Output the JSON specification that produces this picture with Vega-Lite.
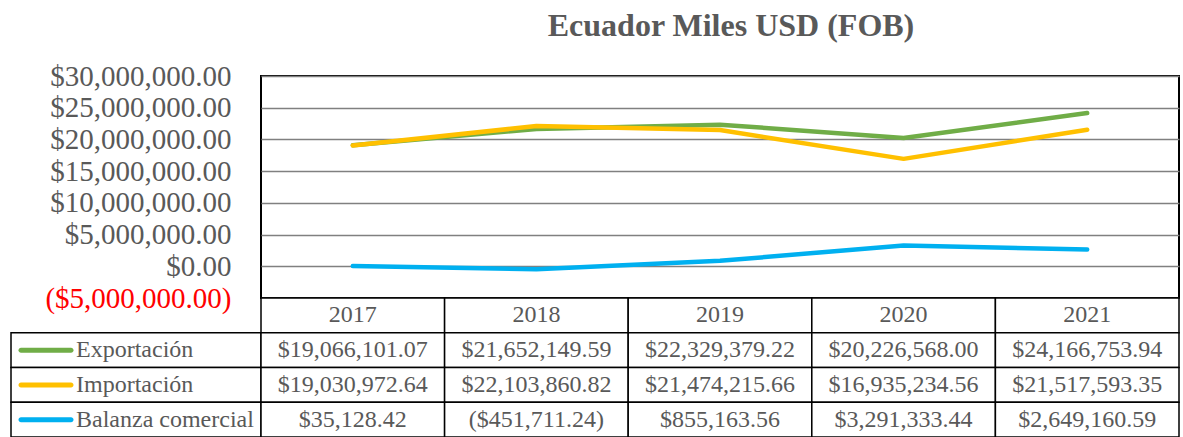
{
  "$schema": "https://vega.github.io/schema/vega-lite/v6.json",
  "background": "white",
  "padding": {"left": 10, "right": 5, "top": 9, "bottom": 0},
  "autosize": {"type": "pad"},
  "datasets": {
    "trade": [
      {"year": "2017", "serie": "Exportación", "value": 19066101.07},
      {"year": "2018", "serie": "Exportación", "value": 21652149.59},
      {"year": "2019", "serie": "Exportación", "value": 22329379.22},
      {"year": "2020", "serie": "Exportación", "value": 20226568.00},
      {"year": "2021", "serie": "Exportación", "value": 24166753.94},
      {"year": "2017", "serie": "Importación", "value": 19030972.64},
      {"year": "2018", "serie": "Importación", "value": 22103860.82},
      {"year": "2019", "serie": "Importación", "value": 21474215.66},
      {"year": "2020", "serie": "Importación", "value": 16935234.56},
      {"year": "2021", "serie": "Importación", "value": 21517593.35},
      {"year": "2017", "serie": "Balanza comercial", "value": 35128.42},
      {"year": "2018", "serie": "Balanza comercial", "value": -451711.24},
      {"year": "2019", "serie": "Balanza comercial", "value": 855163.56},
      {"year": "2020", "serie": "Balanza comercial", "value": 3291333.44},
      {"year": "2021", "serie": "Balanza comercial", "value": 2649160.59}
    ],
    "years": [
      {"year": "2017"}, {"year": "2018"}, {"year": "2019"}, {"year": "2020"}, {"year": "2021"}
    ]
  },
  "columns": 2,
  "spacing": 0,
  "bounds": "flush",
  "resolve": {"scale": {"x": "independent", "y": "independent"}},
  "concat": [
    {
      "width": 250,
      "height": 222,
      "view": {"stroke": null},
      "data": {"values": [{}]},
      "mark": {"type": "text"},
      "encoding": {"text": {"value": ""}}
    },
    {
      "width": 918,
      "height": 222,
      "view": {"stroke": "black", "strokeWidth": 2},
      "title": {
        "text": "Ecuador Miles USD (FOB)",
        "font": "Liberation Serif",
        "fontSize": 32,
        "fontWeight": "bold",
        "color": "#595959",
        "anchor": "middle",
        "dx": 11,
        "offset": 19
      },
      "data": {"name": "trade"},
      "mark": {"type": "line", "strokeWidth": 4.5, "strokeCap": "round", "strokeJoin": "round"},
      "encoding": {
        "x": {
          "field": "year", "type": "ordinal",
          "scale": {"type": "band", "paddingInner": 0, "paddingOuter": 0},
          "axis": null
        },
        "y": {
          "field": "value", "type": "quantitative",
          "scale": {"domain": [-5000000, 30000000], "nice": false, "zero": false},
          "axis": {
            "values": [-5000000, 0, 5000000, 10000000, 15000000, 20000000, 25000000, 30000000],
            "format": "($,.2f",
            "title": null,
            "domain": false,
            "ticks": false,
            "grid": true,
            "gridColor": "#808080",
            "gridWidth": 1.5,
            "labelFont": "Liberation Serif",
            "labelFontSize": 29,
            "labelPadding": 30,
            "labelLimit": 300,
            "labelOverlap": false,
            "labelColor": {"condition": {"test": "datum.value < 0", "value": "#FF0000"}, "value": "#595959"}
          }
        },
        "color": {
          "field": "serie", "type": "nominal",
          "scale": {"domain": ["Exportación", "Importación", "Balanza comercial"], "range": ["#70AD47", "#FFC000", "#00B0F0"]},
          "legend": null
        }
      }
    },
    {
      "width": 250,
      "height": 139,
      "view": {"stroke": null},
      "data": {"name": "trade"},
      "transform": [{"filter": "datum.year == '2017'"}],
      "encoding": {
        "y": {
          "field": "serie", "type": "nominal",
          "scale": {"domain": ["Año", "Exportación", "Importación", "Balanza comercial"], "paddingInner": 0, "paddingOuter": 0},
          "axis": null
        }
      },
      "layer": [
        {
          "mark": {"type": "rect", "fill": "white", "stroke": "black", "strokeWidth": 1.5}
        },
        {
          "mark": {"type": "tick", "orient": "horizontal", "size": 55, "thickness": 5, "xOffset": -90, "cornerRadius": 2.5, "opacity": 1},
          "encoding": {
            "color": {
              "field": "serie", "type": "nominal",
              "scale": {"domain": ["Exportación", "Importación", "Balanza comercial"], "range": ["#70AD47", "#FFC000", "#00B0F0"]},
              "legend": null
            }
          }
        },
        {
          "mark": {"type": "text", "align": "left", "baseline": "middle", "dx": -60, "font": "Liberation Serif", "fontSize": 24, "color": "#595959"},
          "encoding": {"text": {"field": "serie", "type": "nominal"}}
        }
      ]
    },
    {
      "width": 918,
      "height": 139,
      "view": {"stroke": null},
      "encoding": {
        "x": {
          "field": "year", "type": "ordinal",
          "scale": {"type": "band", "paddingInner": 0, "paddingOuter": 0},
          "axis": null
        }
      },
      "layer": [
        {
          "data": {"name": "years"},
          "mark": {"type": "rect", "fill": "white", "stroke": "black", "strokeWidth": 1.5},
          "encoding": {
            "y": {
              "datum": "Año", "type": "nominal",
              "scale": {"domain": ["Año", "Exportación", "Importación", "Balanza comercial"], "paddingInner": 0, "paddingOuter": 0},
              "axis": null
            }
          }
        },
        {
          "data": {"name": "years"},
          "mark": {"type": "text", "baseline": "middle", "font": "Liberation Serif", "fontSize": 24, "color": "#595959"},
          "encoding": {
            "y": {"datum": "Año", "type": "nominal"},
            "text": {"field": "year", "type": "nominal"}
          }
        },
        {
          "data": {"name": "trade"},
          "mark": {"type": "rect", "fill": "white", "stroke": "black", "strokeWidth": 1.5},
          "encoding": {
            "y": {"field": "serie", "type": "nominal"}
          }
        },
        {
          "data": {"name": "trade"},
          "mark": {"type": "text", "baseline": "middle", "font": "Liberation Serif", "fontSize": 24, "color": "#595959"},
          "encoding": {
            "y": {"field": "serie", "type": "nominal"},
            "text": {"field": "value", "type": "quantitative", "format": "($,.2f"}
          }
        }
      ]
    }
  ]
}
